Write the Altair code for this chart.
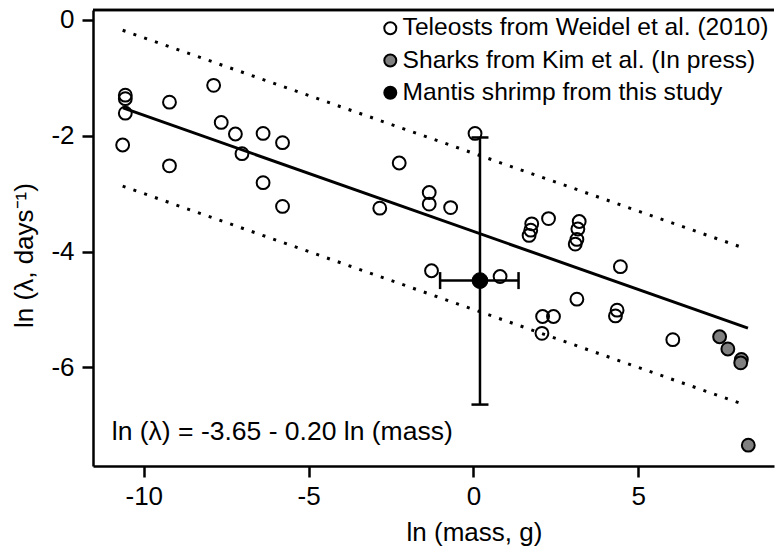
import altair as alt
import pandas as pd

FONT = "Liberation Sans"

# Teleosts (Weidel et al. 2010)
tel_x = [-10.56, -10.56, -10.56, -10.64, -9.22, -9.22, -7.88, -7.65, -7.22, -7.02,
         -6.38, -6.38, -5.79, -5.79, -2.84, -2.25, -1.34, -1.34, -0.69, 0.05,
         -1.27, 0.81, 1.77, 1.74, 1.69, 2.28, 3.21, 3.17, 3.14, 3.09,
         4.46, 3.14, 2.10, 2.43, 2.08, 4.36, 4.31, 6.05]
tel_y = [-1.30, -1.36, -1.61, -2.16, -1.42, -2.52, -1.13, -1.77, -1.97, -2.31,
         -1.96, -2.81, -2.12, -3.22, -3.25, -2.47, -2.98, -3.18, -3.24, -1.96,
         -4.33, -4.43, -3.52, -3.63, -3.72, -3.43, -3.48, -3.61, -3.79, -3.87,
         -4.26, -4.82, -5.12, -5.12, -5.41, -5.01, -5.11, -5.52]
# Sharks (Kim et al. in press)
shk_x = [7.47, 7.72, 8.13, 8.11, 8.34]
shk_y = [-5.47, -5.68, -5.86, -5.92, -7.34]
# Mantis shrimp (this study) with error bars
man_x = [0.20]
man_y = [-4.50]
man_xlo = [-1.01]
man_xhi = [1.37]
man_ylo = [-6.64]
man_yhi = [-2.03]

# Regression line and prediction band end points
reg_x = [-10.63, 8.33]
reg_y = [-1.52, -5.32]
band_x = [-10.64, 8.21]
upper_y = [-0.18, -3.94]
lower_y = [-2.87, -6.64]

groups = ["Teleosts from Weidel et al. (2010)",
          "Sharks from Kim et al. (In press)",
          "Mantis shrimp from this study"]
fills = ["transparent", "#808080", "black"]

eq_text = ["ln (λ) = -3.65 - 0.20 ln (mass)"]
eq_x = [-10.97]
eq_y = [-7.25]

x_ticks = [-10, -5, 0, 5]
y_ticks = [0, -2, -4, -6]

W, H = 681, 456

pts = pd.DataFrame({
    "x": tel_x + shk_x + man_x,
    "y": tel_y + shk_y + man_y,
    "group": [groups[0]] * len(tel_x) + [groups[1]] * len(shk_x) + [groups[2]] * len(man_x),
})
man = pd.DataFrame({"x": man_x, "y": man_y, "xlo": man_xlo, "xhi": man_xhi,
                    "ylo": man_ylo, "yhi": man_yhi})
reg = pd.DataFrame({"x": reg_x, "y": reg_y})
band = pd.DataFrame({"x": band_x * 2, "y": upper_y + lower_y,
                     "s": ["upper"] * 2 + ["lower"] * 2})
eq = pd.DataFrame({"x": eq_x, "y": eq_y, "t": eq_text})

xs = alt.Scale(domain=[-11.54, 9.12], nice=False, zero=False)
ys = alt.Scale(domain=[-7.70, 0.17], nice=False, zero=False)

X = alt.X("x:Q", scale=xs, axis=alt.Axis(
    values=x_ticks, labelExpr="toString(datum.value)", title="ln (mass, g)",
    titleX=381, titleY=74, titleBaseline="alphabetic", titleAlign="center",
    labelPadding=6.5))
Y = alt.Y("y:Q", scale=ys, axis=alt.Axis(
    values=y_ticks, labelExpr="toString(datum.value)", title="ln (λ, days⁻¹)",
    titleX=-61, titleY=245, titleBaseline="alphabetic", titleAlign="center",
    titleAngle=-90, labelPadding=8))

fill_enc = alt.Fill("group:N", scale=alt.Scale(domain=groups, range=fills),
                    legend=alt.Legend(title=None, orient="none", legendX=285, legendY=6,
                                      symbolType="circle", symbolSize=144,
                                      symbolStrokeColor="black", symbolStrokeWidth=2,
                                      labelFontSize=24.6, labelFont=FONT, labelColor="black",
                                      labelOffset=0, rowPadding=7.2, padding=0,
                                      labelLimit=500))

band_layer = alt.Chart(band).mark_line(color="black", strokeWidth=3, strokeDash=[3, 8.4]).encode(
    x=X, y=Y, detail="s:N")
reg_layer = alt.Chart(reg).mark_line(color="black", strokeWidth=3).encode(x=X, y=Y)

pt_layer = alt.Chart(pts).transform_filter(
    alt.datum.group != groups[2]
).mark_point(shape="circle", size=165, stroke="black", strokeWidth=2, opacity=1,
             filled=False).encode(x=X, y=Y, fill=fill_enc)

vbar = alt.Chart(man).mark_rule(color="black", strokeWidth=2.5).encode(
    x="x:Q", y="ylo:Q", y2="yhi:Q")
hbar = alt.Chart(man).mark_rule(color="black", strokeWidth=2.5).encode(
    x="xlo:Q", x2="xhi:Q", y="y:Q")
tick_kw = dict(color="black", opacity=1, size=17, thickness=2.5)
cap_lo = alt.Chart(man).mark_tick(orient="horizontal", **tick_kw).encode(x="x:Q", y="ylo:Q")
cap_hi = alt.Chart(man).mark_tick(orient="horizontal", **tick_kw).encode(x="x:Q", y="yhi:Q")
cap_l = alt.Chart(man).mark_tick(orient="vertical", **tick_kw).encode(x="xlo:Q", y="y:Q")
cap_r = alt.Chart(man).mark_tick(orient="vertical", **tick_kw).encode(x="xhi:Q", y="y:Q")

man_layer = alt.Chart(pts).transform_filter(
    alt.datum.group == groups[2]
).mark_point(shape="circle", size=250, stroke="black", strokeWidth=1, opacity=1,
             filled=True).encode(x=X, y=Y, fill=fill_enc)

eq_layer = alt.Chart(eq).mark_text(align="left", baseline="alphabetic", fontSize=26.5,
                                   font=FONT, color="black").encode(x=X, y=Y, text="t:N")

top_rule = alt.Chart(reg).mark_rule(color="black", strokeWidth=2.5).encode(
    x=alt.value(0), x2=alt.value(W), y=alt.value(0))

chart = alt.layer(
    pt_layer, band_layer, reg_layer, vbar, hbar, cap_lo, cap_hi, cap_l, cap_r,
    man_layer, eq_layer, top_rule
).resolve_scale(fill="shared").properties(
    width=W, height=H, background="white",
    autosize=alt.AutoSizeParams(type="none"),
    padding={"left": 93, "top": 10, "right": 1, "bottom": 80},
).configure_view(stroke=None).configure_axis(
    grid=False, domainColor="black", domainWidth=2.5, tickColor="black",
    tickWidth=2.5, tickSize=11, labelFont=FONT, labelFontSize=26, labelColor="black",
    titleFont=FONT, titleFontSize=26, titleColor="black", titleFontWeight="normal",
)

chart.save("out.html", embed_options={"renderer": "svg", "actions": False})
